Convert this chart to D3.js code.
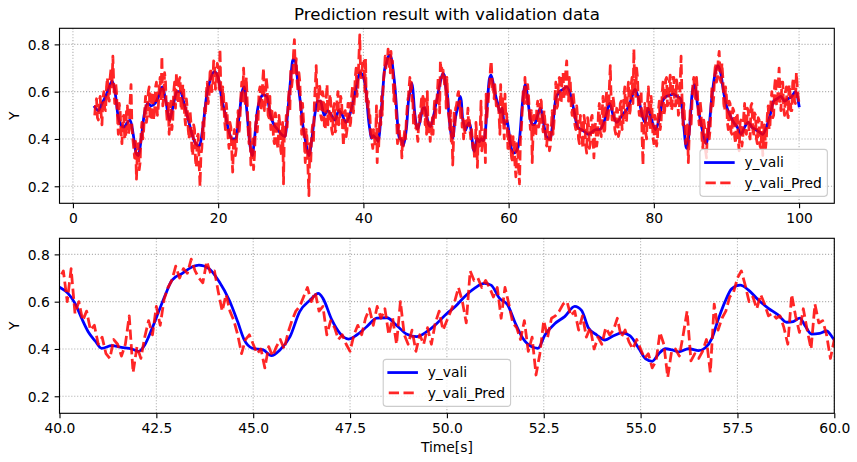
<!DOCTYPE html>
<html><head><meta charset="utf-8">
<script src="https://cdn.jsdelivr.net/npm/d3@7"></script>
<style>
body{margin:0;background:#fff}
svg{display:block}
text{font-family:"DejaVu Sans",sans-serif;fill:#000}
</style>
</head><body>
<svg id="chart" width="857" height="462"></svg>
<script>
// ---------------- data ----------------
const titleText = "Prediction result with validation data";
const seriesNames = ["y_vali", "y_vali_Pred"];
const yLabelText = "Y";
const xLabelText = "Time[s]";
const topXTicks = [0, 20, 40, 60, 80, 100];
const bottomXTicks = [40, 42.5, 45, 47.5, 50, 52.5, 55, 57.5, 60];
const yTicks = [0.2, 0.4, 0.6, 0.8];
const topXDomain = [-1.85, 104.85];
const bottomXDomain = [40, 60];
const yDomain = [0.128, 0.868];

// y_vali : [time, value]
const yValiPoints = [
[3.0,0.535],[3.5,0.52],[4.0,0.55],[4.5,0.58],[5.0,0.62],[5.4,0.645],[5.8,0.60],[6.2,0.50],[6.6,0.46],[7.0,0.45],
[7.5,0.47],[7.9,0.48],[8.3,0.42],[8.7,0.34],[9.0,0.33],[9.4,0.40],[9.8,0.50],[10.3,0.55],[10.8,0.54],[11.3,0.55],
[11.8,0.58],[12.3,0.62],[12.8,0.56],[13.3,0.48],[13.8,0.54],[14.3,0.60],[14.8,0.60],[15.3,0.55],[15.9,0.48],[16.4,0.42],
[16.9,0.38],[17.4,0.37],[17.9,0.45],[18.4,0.58],[18.9,0.65],[19.5,0.685],[20.0,0.66],[20.5,0.57],[21.0,0.50],[21.5,0.43],
[21.9,0.40],[22.4,0.40],[22.9,0.50],[23.3,0.60],[23.6,0.62],[24.0,0.50],[24.4,0.37],[24.7,0.33],[25.0,0.40],[25.4,0.52],
[25.8,0.57],[26.2,0.585],[26.7,0.58],[27.2,0.50],[27.7,0.46],[28.2,0.44],[28.7,0.42],[29.2,0.41],[29.6,0.52],[30.0,0.66],
[30.3,0.735],[30.6,0.73],[30.9,0.66],[31.3,0.56],[31.7,0.45],[32.1,0.38],[32.5,0.33],[32.9,0.40],[33.3,0.50],[33.7,0.56],
[34.1,0.56],[34.6,0.50],[35.1,0.52],[35.6,0.50],[36.1,0.48],[36.6,0.52],[37.1,0.50],[37.6,0.47],[38.1,0.50],[38.6,0.56],
[39.1,0.63],[39.5,0.68],[39.8,0.675],
[40.0,0.661],[40.22,0.635],[40.4,0.593],[40.57,0.53],[40.74,0.473],[40.92,0.434],[41.09,0.403],[41.35,0.414],[41.6,0.407],[41.87,0.40],
[42.04,0.39],[42.2,0.417],[42.39,0.487],[42.56,0.558],[42.73,0.628],[42.9,0.69],[43.17,0.72],[43.43,0.748],[43.6,0.755],[43.86,0.74],
[44.12,0.685],[44.38,0.607],[44.6,0.515],[44.77,0.438],[44.98,0.403],[45.26,0.396],[45.47,0.372],[45.69,0.396],[45.95,0.452],[46.2,0.558],
[46.47,0.607],[46.68,0.635],[46.8,0.614],[47.03,0.523],[47.24,0.466],[47.46,0.442],[47.67,0.459],[47.93,0.494],[48.19,0.53],[48.45,0.532],
[48.7,0.50],[48.97,0.462],[49.22,0.452],[49.48,0.473],[49.74,0.508],[50.0,0.55],[50.19,0.575],[50.45,0.62],[50.71,0.656],[50.97,0.677],
[51.14,0.67],[51.36,0.614],[51.57,0.586],[51.75,0.515],[51.96,0.445],[52.18,0.41],[52.35,0.403],[52.53,0.459],[52.79,0.508],[53.04,0.537],
[53.3,0.58],[53.48,0.562],[53.65,0.49],[53.87,0.459],[54.08,0.438],[54.3,0.456],[54.52,0.468],[54.73,0.455],[54.95,0.403],[55.13,0.358],
[55.3,0.348],[55.47,0.38],[55.64,0.401],[55.81,0.396],[55.98,0.388],[56.24,0.401],[56.5,0.393],[56.67,0.405],[56.84,0.445],[57.0,0.523],
[57.18,0.60],[57.35,0.654],[57.57,0.67],[57.78,0.65],[58.04,0.607],[58.3,0.572],[58.55,0.544],[58.77,0.513],[58.94,0.516],[59.11,0.53],
[59.24,0.50],[59.41,0.463],[59.62,0.466],[59.8,0.476],[59.97,0.445],
[60.3,0.37],[60.7,0.34],[61.1,0.35],[61.5,0.40],[61.9,0.55],[62.3,0.63],[62.7,0.55],[63.1,0.47],[63.5,0.46],[64.0,0.50],
[64.4,0.53],[64.8,0.47],[65.2,0.41],[65.7,0.40],[66.1,0.47],[66.5,0.57],[67.0,0.60],[67.5,0.61],[68.0,0.62],[68.5,0.59],
[69.0,0.52],[69.5,0.45],[70.0,0.44],[70.5,0.43],[71.0,0.42],[71.5,0.43],[72.0,0.44],[72.5,0.44],[73.0,0.46],[73.5,0.51],
[73.9,0.55],[74.4,0.50],[74.9,0.47],[75.4,0.49],[75.9,0.51],[76.4,0.53],[76.9,0.57],[77.4,0.61],[77.9,0.57],[78.4,0.50],
[78.8,0.47],[79.2,0.53],[79.7,0.48],[80.2,0.44],[80.7,0.48],[81.2,0.56],[81.7,0.58],[82.2,0.585],[82.7,0.59],[83.2,0.58],
[83.7,0.57],[84.1,0.46],[84.5,0.36],[84.9,0.44],[85.3,0.60],[85.6,0.63],[86.0,0.55],[86.4,0.48],[86.8,0.42],[87.2,0.38],
[87.6,0.45],[88.0,0.58],[88.4,0.67],[88.8,0.71],[89.2,0.68],[89.6,0.60],[90.0,0.54],[90.5,0.50],[91.0,0.47],[91.5,0.45],
[92.0,0.42],[92.5,0.45],[93.0,0.47],[93.5,0.45],[94.0,0.44],[94.5,0.43],[95.0,0.42],[95.5,0.45],[96.0,0.50],[96.5,0.56],
[97.0,0.57],[97.5,0.58],[98.0,0.56],[98.5,0.57],[99.0,0.58],[99.5,0.60],[100.0,0.54]
];

// y_vali_Pred : three sampled stretches (start time, sample step, values)
const predStartA = 3.0, predStepA = 0.125;
const predA = [
0.50,0.55,0.57,0.49,0.48,0.56,0.58,0.51,
0.46,0.57,0.60,0.53,0.52,0.62,0.66,0.58,
0.56,0.66,0.70,0.62,0.75,0.63,0.55,0.64,
0.60,0.50,0.42,0.55,0.52,0.43,0.38,0.49,
0.50,0.41,0.40,0.52,0.54,0.42,0.44,0.56,
0.63,0.45,0.40,0.36,0.32,0.39,0.23,0.35,
0.38,0.27,0.30,0.42,0.47,0.40,0.44,0.52,
0.58,0.47,0.50,0.60,0.62,0.48,0.49,0.59,
0.60,0.48,0.52,0.62,0.64,0.50,0.53,0.61,
0.66,0.56,0.75,0.54,0.58,0.68,0.64,0.52,
0.47,0.55,0.42,0.51,0.56,0.44,0.48,0.60,
0.64,0.53,0.68,0.56,0.55,0.65,0.66,0.54,
0.52,0.63,0.62,0.50,0.46,0.57,0.53,0.44,
0.40,0.52,0.47,0.36,0.33,0.46,0.44,0.31,
0.28,0.41,0.42,0.30,0.20,0.33,0.36,0.47,
0.40,0.53,0.50,0.60,0.64,0.55,0.58,0.68,
0.70,0.60,0.62,0.73,0.72,0.61,0.64,0.72,
0.70,0.61,0.78,0.60,0.52,0.62,0.58,0.48,
0.44,0.55,0.50,0.40,0.36,0.47,0.45,0.35,
0.26,0.40,0.44,0.33,0.36,0.47,0.52,0.42,
0.48,0.58,0.64,0.55,0.70,0.60,0.54,0.66,
0.56,0.44,0.38,0.47,0.29,0.36,0.40,0.27,
0.33,0.44,0.50,0.43,0.48,0.60,0.62,0.52,
0.54,0.64,0.70,0.52,0.55,0.66,0.62,0.50,
0.49,0.58,0.44,0.53,0.49,0.40,0.38,0.51,
0.48,0.38,0.36,0.50,0.46,0.35,0.33,0.47,
0.21,0.45,0.40,0.50,0.45,0.55,0.60,0.52,
0.70,0.62,0.66,0.76,0.82,0.68,0.74,0.64,
0.60,0.68,0.64,0.52,0.42,0.55,0.48,0.38,
0.30,0.44,0.40,0.27,0.16,0.38,0.30,0.42,
0.46,0.38,0.55,0.62,0.71,0.58,0.52,0.63,
0.62,0.50,0.48,0.60,0.58,0.45,0.44,0.57,
0.63,0.46,0.50,0.59,0.56,0.44,0.42,0.53,
0.55,0.43,0.44,0.57,0.60,0.46,0.48,0.58,
0.56,0.45,0.37,0.51,0.52,0.41,0.44,0.55,
0.55,0.45,0.47,0.58,0.62,0.51,0.56,0.66,
0.70,0.58,0.62,0.74,0.84,0.66,0.66,0.72
];
const predStartB = 40.0, predStepB = 0.1;
const predB = [
0.70,0.73,0.60,0.74,0.55,0.60,0.52,0.56,0.48,0.50,
0.42,0.45,0.38,0.36,0.44,0.42,0.37,0.42,0.54,0.30,
0.41,0.36,0.45,0.52,0.46,0.58,0.50,0.61,0.66,0.69,
0.75,0.70,0.74,0.72,0.78,0.73,0.70,0.68,0.77,0.72,
0.73,0.64,0.56,0.63,0.56,0.52,0.46,0.38,0.44,0.46,
0.42,0.38,0.40,0.32,0.41,0.37,0.41,0.44,0.40,0.47,
0.52,0.56,0.58,0.62,0.66,0.60,0.64,0.56,0.58,0.46,
0.52,0.49,0.44,0.46,0.42,0.39,0.46,0.50,0.46,0.53,
0.57,0.50,0.58,0.53,0.57,0.46,0.53,0.42,0.60,0.46,
0.42,0.48,0.39,0.46,0.42,0.49,0.42,0.51,0.56,0.48,
0.52,0.56,0.60,0.66,0.60,0.51,0.73,0.69,0.70,0.66,
0.69,0.66,0.62,0.66,0.53,0.66,0.59,0.51,0.49,0.44,
0.52,0.39,0.45,0.29,0.38,0.52,0.45,0.53,0.54,0.56,
0.59,0.60,0.54,0.56,0.48,0.54,0.45,0.49,0.40,0.45,
0.42,0.49,0.46,0.48,0.53,0.45,0.48,0.43,0.40,0.44,
0.40,0.36,0.38,0.32,0.35,0.47,0.42,0.28,0.39,0.40,
0.37,0.46,0.56,0.35,0.38,0.36,0.39,0.44,0.30,0.59,
0.48,0.53,0.56,0.62,0.64,0.70,0.73,0.67,0.60,0.62,
0.57,0.63,0.59,0.54,0.55,0.53,0.54,0.49,0.42,0.63,
0.54,0.47,0.57,0.48,0.40,0.59,0.51,0.52,0.46,0.36,
0.44
];
const predStartC = 60.125, predStepC = 0.125;
const predC = [
0.36,0.42,0.33,0.30,0.41,0.40,0.29,
0.24,0.38,0.36,0.27,0.21,0.40,0.44,0.52,
0.60,0.55,0.66,0.58,0.55,0.63,0.58,0.50,
0.44,0.52,0.30,0.43,0.50,0.41,0.42,0.53,
0.56,0.45,0.47,0.57,0.56,0.46,0.43,0.52,
0.48,0.38,0.37,0.46,0.44,0.35,0.37,0.45,
0.52,0.42,0.47,0.58,0.64,0.53,0.54,0.65,
0.66,0.55,0.56,0.67,0.68,0.57,0.58,0.69,
0.73,0.60,0.56,0.66,0.64,0.53,0.50,0.60,
0.56,0.46,0.44,0.54,0.49,0.40,0.38,0.50,
0.48,0.39,0.36,0.50,0.47,0.37,0.34,0.49,
0.46,0.36,0.38,0.49,0.50,0.40,0.32,0.45,
0.47,0.37,0.40,0.52,0.55,0.43,0.41,0.51,
0.58,0.42,0.44,0.56,0.60,0.47,0.50,0.62,
0.71,0.56,0.48,0.58,0.55,0.44,0.42,0.53,
0.52,0.41,0.43,0.55,0.56,0.44,0.45,0.58,
0.62,0.47,0.48,0.60,0.64,0.50,0.52,0.63,
0.66,0.55,0.78,0.62,0.58,0.70,0.66,0.54,
0.50,0.58,0.60,0.42,0.29,0.46,0.55,0.43,
0.40,0.55,0.62,0.48,0.44,0.58,0.52,0.41,
0.38,0.50,0.48,0.37,0.40,0.52,0.56,0.44,
0.47,0.58,0.64,0.50,0.52,0.65,0.66,0.54,
0.55,0.64,0.67,0.52,0.53,0.66,0.66,0.54,
0.54,0.65,0.62,0.50,0.52,0.63,0.75,0.58,
0.46,0.55,0.48,0.38,0.40,0.46,0.30,0.42,
0.52,0.45,0.55,0.64,0.66,0.58,0.57,0.66,
0.60,0.50,0.46,0.56,0.52,0.40,0.36,0.48,
0.45,0.35,0.32,0.44,0.47,0.40,0.44,0.54,
0.62,0.54,0.58,0.68,0.72,0.64,0.66,0.74,
0.77,0.65,0.64,0.72,0.66,0.55,0.52,0.62,
0.58,0.47,0.44,0.56,0.55,0.43,0.42,0.53,
0.52,0.41,0.38,0.51,0.50,0.39,0.35,0.47,
0.48,0.37,0.40,0.50,0.55,0.43,0.42,0.53,
0.52,0.42,0.40,0.54,0.55,0.44,0.41,0.51,
0.50,0.40,0.38,0.49,0.48,0.37,0.36,0.47,
0.33,0.43,0.46,0.36,0.40,0.50,0.54,0.44,
0.46,0.56,0.60,0.49,0.50,0.62,0.66,0.55,
0.54,0.63,0.70,0.58,0.52,0.64,0.64,0.53,
0.50,0.60,0.62,0.51,0.49,0.63,0.60,0.52,
0.52,0.64,0.66,0.56,0.55,0.68,0.62,0.58,
0.55
];

// ---------------- build ----------------
const valiSeries = yValiPoints.map(d => ({t: d[0], y: d[1]}));
function sampled(start, step, vals) {
  return vals.map((v, i) => ({t: +(start + i * step).toFixed(4), y: v}));
}
const predSeries = [].concat(
  sampled(predStartA, predStepA, predA),
  sampled(predStartB, predStepB, predB),
  sampled(predStartC, predStepC, predC)
);

const svg = d3.select("#chart");
const PT = 100 / 72;           // px per point
const FS = 10 * PT;            // 10pt font
const LW = 2 * PT;             // line width 2pt
const plotLeft = 59.5, plotRight = 834.3;
const panels = [
  {top: 28.3, bottom: 203.3, xDomain: topXDomain, xTicks: topXTicks, fmt: d3.format("d"), legend: "lowerright", xlabel: false},
  {top: 238.3, bottom: 413.3, xDomain: bottomXDomain, xTicks: bottomXTicks, fmt: d3.format(".1f"), legend: "lowercenter", xlabel: true}
];

svg.append("text").attr("x", (plotLeft + plotRight) / 2).attr("y", 20)
  .attr("text-anchor", "middle").style("font-size", (12 * PT) + "px").text(titleText);

panels.forEach((p, pi) => {
  const x = d3.scaleLinear().domain(p.xDomain).range([plotLeft, plotRight]);
  const y = d3.scaleLinear().domain(yDomain).range([p.bottom, p.top]);
  const g = svg.append("g");
  const clipId = "clip" + pi;
  g.append("clipPath").attr("id", clipId).append("rect")
    .attr("x", plotLeft).attr("y", p.top).attr("width", plotRight - plotLeft).attr("height", p.bottom - p.top);

  // grid
  const grid = g.append("g").attr("stroke", "#b0b0b0").attr("stroke-width", 0.8 * PT)
    .attr("stroke-dasharray", (0.8 * PT) + "," + (1.32 * PT));
  p.xTicks.forEach(t => grid.append("line").attr("x1", x(t)).attr("x2", x(t)).attr("y1", p.top).attr("y2", p.bottom));
  yTicks.forEach(t => grid.append("line").attr("x1", plotLeft).attr("x2", plotRight).attr("y1", y(t)).attr("y2", y(t)));

  const lo = p.xDomain[0] - 0.5, hi = p.xDomain[1] + 0.5;
  const vData = valiSeries.filter(d => d.t >= lo - 1 && d.t <= hi + 1);
  const pData = predSeries.filter(d => d.t >= lo && d.t <= hi);
  const data = g.append("g").attr("clip-path", "url(#" + clipId + ")");
  data.append("path").datum(vData)
    .attr("d", d3.line().x(d => x(d.t)).y(d => y(d.y)).curve(d3.curveMonotoneX))
    .attr("fill", "none").attr("stroke", "#0000ff").attr("stroke-width", LW)
    .attr("stroke-linejoin", "round").attr("stroke-linecap", "square");
  data.append("path").datum(pData)
    .attr("d", d3.line().x(d => x(d.t)).y(d => y(d.y)))
    .attr("fill", "none").attr("stroke", "#ff0000").attr("stroke-opacity", 0.85).attr("stroke-width", LW)
    .attr("stroke-dasharray", (3.7 * LW) + "," + (1.6 * LW))
    .attr("stroke-linejoin", "round").attr("stroke-linecap", "butt");

  // axes
  const tickLen = 3.5 * PT, tickPad = 3.5 * PT;
  const xa = g.append("g").attr("transform", `translate(0,${p.bottom})`)
    .call(d3.axisBottom(x).tickValues(p.xTicks).tickFormat(p.fmt).tickSize(tickLen).tickPadding(tickPad));
  const ya = g.append("g").attr("transform", `translate(${plotLeft},0)`)
    .call(d3.axisLeft(y).tickValues(yTicks).tickFormat(d3.format(".1f")).tickSize(tickLen).tickPadding(tickPad));
  [xa, ya].forEach(a => {
    a.select(".domain").remove();
    a.selectAll(".tick line").attr("stroke", "#000").attr("stroke-width", 0.8 * PT);
    a.selectAll(".tick text").style("font-size", FS + "px").attr("fill", "#000")
      .style("font-family", "'DejaVu Sans', sans-serif");
  });
  ya.selectAll(".tick text").attr("dy", "0.36em");

  // spines
  g.append("rect").attr("x", plotLeft).attr("y", p.top).attr("width", plotRight - plotLeft)
    .attr("height", p.bottom - p.top).attr("fill", "none").attr("stroke", "#000").attr("stroke-width", 0.8 * PT);

  // y label
  g.append("text").attr("transform", `translate(19,${(p.top + p.bottom) / 2}) rotate(-90)`)
    .attr("text-anchor", "middle").style("font-size", FS + "px").text(yLabelText);
  if (p.xlabel) {
    g.append("text").attr("x", (plotLeft + plotRight) / 2).attr("y", 452)
      .attr("text-anchor", "middle").style("font-size", FS + "px").text(xLabelText);
  }

  // legend
  const lg = g.append("g");
  const tmp = lg.append("text").style("font-size", FS + "px").text(seriesNames[1]);
  const textW = tmp.node().getComputedTextLength();
  tmp.remove();
  const pad = 0.4 * FS, hl = 2 * FS, htp = 0.8 * FS;
  const boxW = pad + hl + htp + textW + pad;
  const boxH = 47;
  const boxX = p.legend === "lowerright" ? plotRight - 0.5 * FS - boxW : (plotLeft + plotRight) / 2 - boxW / 2;
  const boxY = p.bottom - 0.5 * FS - boxH;
  lg.append("rect").attr("x", boxX).attr("y", boxY).attr("width", boxW).attr("height", boxH)
    .attr("rx", 3).attr("fill", "#fff").attr("fill-opacity", 0.8)
    .attr("stroke", "#cccccc").attr("stroke-width", 0.8 * PT);
  const rows = [boxY + 13.2, boxY + 33.6];
  const hx0 = boxX + pad, hx1 = boxX + pad + hl;
  lg.append("line").attr("x1", hx0).attr("x2", hx1).attr("y1", rows[0]).attr("y2", rows[0])
    .attr("stroke", "#0000ff").attr("stroke-width", LW).attr("stroke-linecap", "square");
  lg.append("line").attr("x1", hx0).attr("x2", hx1).attr("y1", rows[1]).attr("y2", rows[1])
    .attr("stroke", "#ff0000").attr("stroke-opacity", 0.85).attr("stroke-width", LW)
    .attr("stroke-dasharray", (3.7 * LW) + "," + (1.6 * LW));
  seriesNames.forEach((n, i) => {
    lg.append("text").attr("x", hx1 + htp).attr("y", rows[i]).attr("dy", "0.35em")
      .style("font-size", FS + "px").text(n);
  });
});
</script>
</body></html>
